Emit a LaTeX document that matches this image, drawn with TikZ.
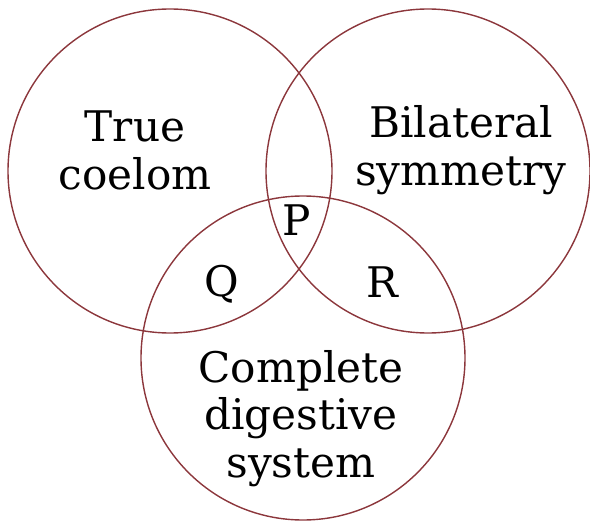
\documentclass[tikz,border=0pt]{standalone}
\usepackage{fontspec}
\setmainfont{DejaVu Serif}
\usepackage{tikz}
\definecolor{ring}{RGB}{140,55,60}
\tikzset{
  venn/.style={circle,draw=ring,line width=0.8pt,minimum size=6.48cm,inner sep=0pt},
  lbl/.style={align=center,font=\fontsize{24}{27}\selectfont}
}
\begin{document}
\begin{tikzpicture}
\useasboundingbox (0,0) rectangle (11.8,10.44);
%\draw[step=0.5cm,gray,very thin] (0,0) grid (11.8,10.44); %background grid

\node[venn] (coelom) at (3.40,7.02) {};
\node[venn] (bilat) at (8.56,7.02) {};
\node[venn] (digest) at (6.06,3.28) {};

\node[lbl] (tc) at (2.70,7.43) {True\\coelom};
\node[lbl] (bs) at (9.22,7.44) {Bilateral\\symmetry};
\node[lbl] (cds) at (6.02,2.07) {Complete\\digestive\\system};

\node[lbl] (p) at (5.94,6.04) {P};
\node[lbl] (q) at (4.44,4.76) {Q};
\node[lbl] (r) at (7.64,4.80) {R};
\end{tikzpicture}
\end{document}
